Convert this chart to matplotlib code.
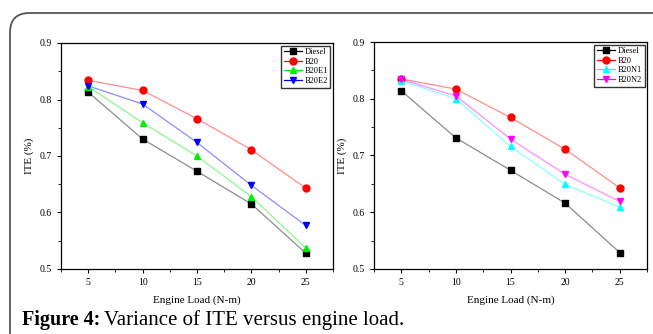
import matplotlib
matplotlib.use('Agg')
import matplotlib.pyplot as plt
from matplotlib.patches import FancyBboxPatch
from matplotlib.ticker import MultipleLocator

plt.rcParams['font.family'] = 'Liberation Serif'

load = [5, 10, 15, 20, 25]

# left panel
diesel = [0.813, 0.730, 0.673, 0.615, 0.528]
b20 = [0.834, 0.816, 0.766, 0.711, 0.643]
b20e1 = [0.823, 0.759, 0.700, 0.628, 0.537]
b20e2 = [0.824, 0.792, 0.724, 0.648, 0.577]

# right panel
diesel_r = [0.814, 0.731, 0.674, 0.616, 0.529]
b20_r = [0.835, 0.817, 0.767, 0.711, 0.643]
b20n1 = [0.832, 0.800, 0.716, 0.649, 0.609]
b20n2 = [0.834, 0.805, 0.729, 0.667, 0.619]

left_series = [('Diesel', diesel, 'black', 's'), ('B20', b20, 'red', 'o'),
               ('B20E1', b20e1, '#00ee00', '^'), ('B20E2', b20e2, 'blue', 'v')]
right_series = [('Diesel', diesel_r, 'black', 's'), ('B20', b20_r, 'red', 'o'),
                ('B20N1', b20n1, 'cyan', '^'), ('B20N2', b20n2, 'magenta', 'v')]

W, H = 653, 334
fig = plt.figure(figsize=(W / 100, H / 100), dpi=100)

# card border (rounded top-left corner, runs off the bottom and right)
card = FancyBboxPatch((10 / W, -100 / H), 700 / W, (H - 13 + 100) / H,
                      transform=fig.transFigure,
                      boxstyle='round,pad=0,rounding_size=0.03', fill=False,
                      edgecolor='#555555', linewidth=1.3, mutation_aspect=W / H)
fig.patches.append(card)


def panel(rect, series):
    ax = fig.add_axes(rect)
    handles = []
    for name, vals, col, mk in series:
        ax.plot(load, vals, color=col, alpha=0.45, linewidth=0.9)
        ax.plot(load, vals, color=col, marker=mk, markersize=5, linestyle='none')
        h, = ax.plot([], [], color=col, marker=mk, markersize=5, linewidth=0.9, label=name)
        handles.append(h)
    ax.set_xlim(2.5, 27.5)
    ax.set_ylim(0.5, 0.9)
    ax.set_xticks(load)
    ax.yaxis.set_major_locator(MultipleLocator(0.1))
    ax.xaxis.set_minor_locator(MultipleLocator(2.5))
    ax.yaxis.set_minor_locator(MultipleLocator(0.05))
    ax.tick_params(labelsize=7, direction='out', length=3, width=0.8)
    ax.tick_params(which='minor', direction='out', length=2, width=0.6)
    ax.set_xlabel('Engine Load (N-m)', fontsize=8, labelpad=6)
    ax.set_ylabel('ITE (%)', fontsize=8)
    for s in ax.spines.values():
        s.set_linewidth(0.9)
    ax.legend(handles=handles, loc='upper right', fontsize=6, frameon=True, fancybox=False,
              edgecolor='black', handlelength=2.2, borderpad=0.3, labelspacing=0.2,
              handletextpad=0.3, borderaxespad=0.3)
    return ax


panel([61 / W, 65 / H, 272 / W, 226 / H], left_series)
panel([374 / W, 65 / H, 273 / W, 227 / H], right_series)

fig.text(22 / W, 14 / H, 'Figure 4:', fontsize=14.5, fontweight='bold', va='center')
fig.text(104 / W, 14 / H, 'Variance of ITE versus engine load.', fontsize=15, va='center')

fig.savefig('out.png', dpi=100)
